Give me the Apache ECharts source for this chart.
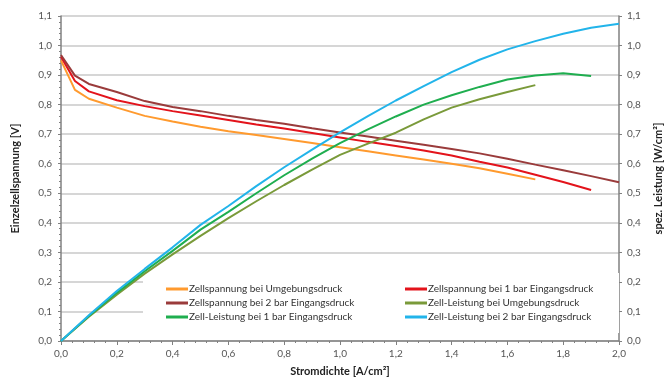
<!DOCTYPE html>
<html>
<head>
<meta charset="utf-8">
<script src="https://cdn.jsdelivr.net/npm/echarts@6/dist/echarts.min.js"></script>
<style>html,body{margin:0;padding:0;background:#fff}#c{width:672px;height:383px}</style>
</head>
<body>
<div id="c"></div>
<script>
// Current density (A/cm²) sample points
const currentAll = [0, 0.05, 0.1, 0.2, 0.3, 0.4, 0.5, 0.6, 0.7, 0.8, 0.9, 1.0, 1.1, 1.2, 1.3, 1.4, 1.5, 1.6, 1.7, 1.8, 1.9, 2.0];
const currentPow = [0, 0.1, 0.2, 0.3, 0.4, 0.5, 0.6, 0.7, 0.8, 0.9, 1.0, 1.1, 1.2, 1.3, 1.4, 1.5, 1.6, 1.7, 1.8, 1.9, 2.0];

// Cell voltage [V]
const vUmgebung = [0.95, 0.85, 0.82, 0.79, 0.762, 0.743, 0.725, 0.71, 0.697, 0.684, 0.670, 0.656, 0.642, 0.628, 0.614, 0.600, 0.585, 0.566, 0.547];
const v1bar = [0.962, 0.88, 0.845, 0.815, 0.795, 0.778, 0.763, 0.748, 0.733, 0.719, 0.704, 0.689, 0.674, 0.66, 0.645, 0.628, 0.607, 0.587, 0.563, 0.538, 0.511];
const v2bar = [0.968, 0.898, 0.87, 0.843, 0.812, 0.792, 0.778, 0.762, 0.748, 0.735, 0.72, 0.706, 0.692, 0.678, 0.664, 0.65, 0.635, 0.617, 0.597, 0.578, 0.558, 0.537];

// Specific power [W/cm²]
const pUmgebung = [0, 0.082, 0.157, 0.228, 0.293, 0.356, 0.416, 0.473, 0.528, 0.58, 0.63, 0.668, 0.705, 0.75, 0.79, 0.818, 0.843, 0.866];
const p1bar = [0, 0.085, 0.163, 0.236, 0.305, 0.377, 0.437, 0.5, 0.561, 0.617, 0.67, 0.716, 0.76, 0.8, 0.832, 0.86, 0.885, 0.899, 0.906, 0.897];
const p2bar = [0, 0.087, 0.169, 0.244, 0.317, 0.393, 0.457, 0.524, 0.588, 0.648, 0.706, 0.761, 0.814, 0.863, 0.91, 0.952, 0.987, 1.015, 1.04, 1.06, 1.074];

const names = [
  'Zellspannung bei Umgebungsdruck',
  'Zellspannung bei 1 bar Eingangsdruck',
  'Zellspannung bei 2 bar Eingangsdruck',
  'Zell-Leistung bei Umgebungsdruck',
  'Zell-Leistung bei 1 bar Eingangsdruck',
  'Zell-Leistung bei 2 bar Eingangsdruck'
];
const colors = ['#ff9a2e', '#e3131b', '#9a3b3b', '#7a9a3a', '#1fae4f', '#22b4ea'];

function pairs(xs, ys) { return ys.map((y, i) => [xs[i], y]); }
const fmt = v => v.toFixed(1).replace('.', ',');
const FONT = 'Lato';

const seriesDefs = [
  [names[0], pairs(currentAll, vUmgebung), 0],
  [names[1], pairs(currentAll, v1bar), 0],
  [names[2], pairs(currentAll, v2bar), 0],
  [names[3], pairs(currentPow, pUmgebung), 1],
  [names[4], pairs(currentPow, p1bar), 1],
  [names[5], pairs(currentPow, p2bar), 1]
];

const chart = echarts.init(document.getElementById('c'));
const axisCol = '#808080';
const labelStyle = { color: '#555', fontSize: 10, fontFamily: FONT };
const nameStyle = { color: '#222', fontSize: 11, fontWeight: 'bold', fontFamily: FONT };
const legendCommon = {
  orient: 'vertical', top: 279, itemGap: 4,
  itemWidth: 22, itemHeight: 3, icon: 'rect',
  textStyle: { color: '#333', fontSize: 10, fontFamily: FONT, padding: [0, 0, 0, -4] },
  z: 5
};

chart.setOption({
  animation: false,
  color: colors,
  textStyle: { fontFamily: FONT },
  grid: { left: 61, right: 51, top: 16, bottom: 42 },
  graphic: [{
    type: 'rect', z: 1, silent: true,
    shape: { x: 143, y: 273, width: 476, height: 60 },
    style: { fill: '#fff' }
  }],
  legend: [
    Object.assign({ data: [names[0], names[2], names[4]], left: 161 }, legendCommon),
    Object.assign({ data: [names[1], names[3], names[5]], left: 400 }, legendCommon)
  ],
  xAxis: {
    type: 'value', min: 0, max: 2, interval: 0.2,
    name: 'Stromdichte [A/cm²]', nameLocation: 'middle', nameGap: 25,
    nameTextStyle: nameStyle,
    axisLine: { lineStyle: { color: axisCol, width: 1.5 } },
    axisTick: { show: true, length: 4, lineStyle: { color: axisCol } },
    minorTick: { show: true, splitNumber: 5, length: 2, lineStyle: { color: axisCol } },
    axisLabel: { ...labelStyle, formatter: fmt, margin: 8 },
    splitLine: { show: false }
  },
  yAxis: [
    {
      type: 'value', min: 0, max: 1.1, interval: 0.1,
      name: 'Einzelzellspannung [V]', nameLocation: 'middle', nameGap: 40,
      nameTextStyle: nameStyle,
      axisLine: { show: true, lineStyle: { color: axisCol, width: 1.5 } },
      axisTick: { show: true, length: 3, lineStyle: { color: axisCol } },
      minorTick: { show: true, splitNumber: 5, length: 2, lineStyle: { color: axisCol } },
      axisLabel: { ...labelStyle, formatter: fmt, margin: 9 },
      splitLine: { show: true, lineStyle: { color: '#d6d6d6', width: 2 } }
    },
    {
      type: 'value', min: 0, max: 1.1, interval: 0.1, position: 'right',
      name: 'spez. Leistung [W/cm²]', nameLocation: 'middle', nameGap: 34,
      nameTextStyle: nameStyle,
      axisLine: { show: true, lineStyle: { color: axisCol, width: 1.5 } },
      axisTick: { show: true, length: 3, lineStyle: { color: axisCol } },
      axisLabel: { ...labelStyle, formatter: fmt, margin: 8 },
      splitLine: { show: false }
    }
  ],
  series: seriesDefs.map(([n, d, yi], i) => ({
    name: n, type: 'line', data: d, yAxisIndex: yi,
    showSymbol: false, symbol: 'none', z: 3,
    lineStyle: { width: 2, color: colors[i] },
    itemStyle: { color: colors[i] }
  }))
});
</script>
</body>
</html>
